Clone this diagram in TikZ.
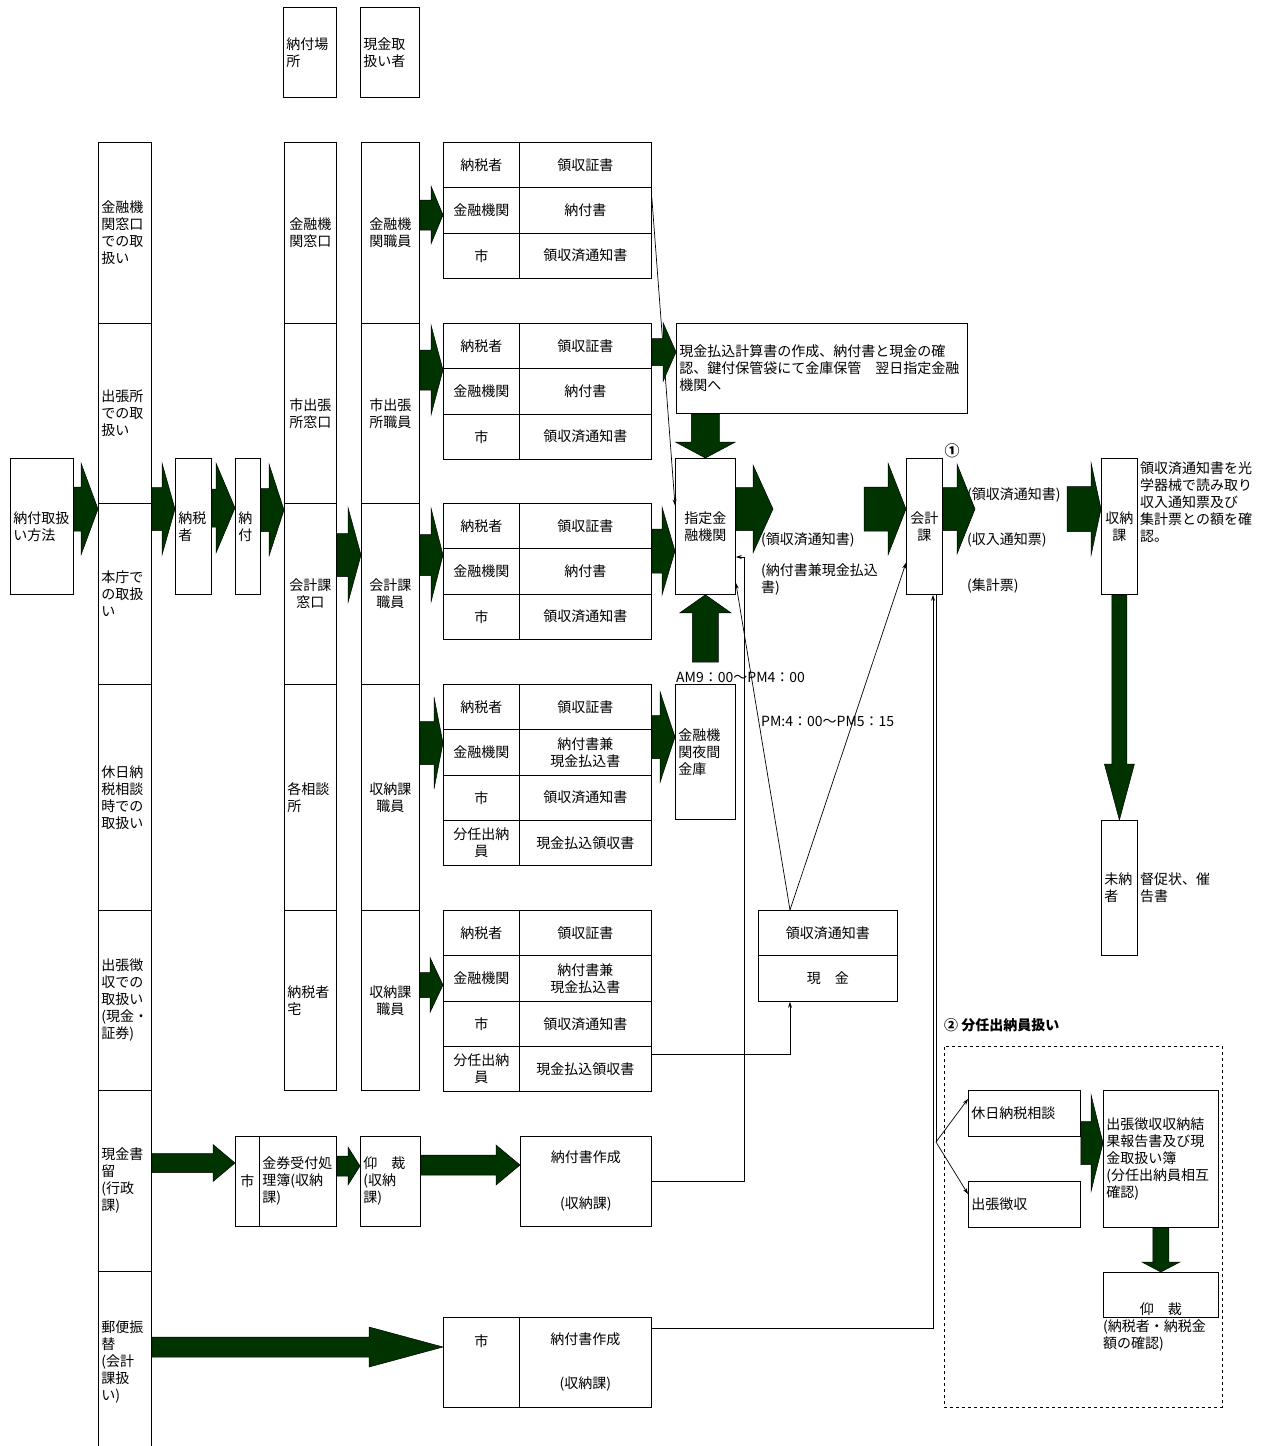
\documentclass[tikz,border=0pt]{standalone}
\usepackage{fontspec}
\setmainfont{Noto Sans CJK JP}
\usepackage{tikz}
\usetikzlibrary{arrows.meta, calc}
\definecolor{arrowgreen}{RGB}{0, 51, 0}

% block arrow: start, tip, shaft half width, head half width, head length
\newcommand{\blockarrow}[5]{%
  \filldraw[blockarr] let \p1=(#1), \p2=(#2), \p3=($(\p2)!#5pt!(\p1)$) in
    ($(\p1)!#3pt!90:(\p2)$) -- ($(\p3)!#3pt!90:(\p2)$) -- ($(\p3)!#4pt!90:(\p2)$) -- (\p2)
    -- ($(\p3)!#4pt!-90:(\p2)$) -- ($(\p3)!#3pt!-90:(\p2)$) -- ($(\p1)!#3pt!-90:(\p2)$) -- cycle;}

\begin{document}
\begin{tikzpicture}[
    x=1pt, y=-1pt,
    font=\fontsize{14}{17}\selectfont,
    % Styles
    cell/.style 2 args={draw, line width=.8pt, anchor=north west, minimum width=#1, minimum height=#2, text width=#1-6, inner xsep=3pt, inner ysep=0pt, align=left},
    lbl/.style={inner sep=0pt, align=left},
    blockarr/.style={fill=arrowgreen, draw=black, line width=.5pt},
    link/.style={-{Stealth[length=6pt, width=4pt]}, line width=.7pt}
]
    \path[use as bounding box, fill=white] (0,0) rectangle (1264,1446);

    % Headings
    \node[cell={53}{90}] (hd1) at (283,7) {納付場\\所};
    \node[cell={59}{90}] (hd2) at (360,7) {現金取\\扱い者};

    % Ways of payment
    \node[cell={63}{136}] (meth) at (10,458) {納付取扱\\い方法};
    \node[cell={53}{181}] (hw1) at (98,142) {金融機\\関窓口\\での取\\扱い};
    \node[cell={53}{180}] (hw2) at (98,323) {出張所\\での取\\扱い};
    \node[cell={53}{181}] (hw3) at (98,503) {本庁で\\の取扱\\い};
    \node[cell={53}{226}] (hw4) at (98,684) {休日納\\税相談\\時での\\取扱い};
    \node[cell={53}{180}] (hw5) at (98,910) {出張徴\\収での\\取扱い\\(現金・\\証券)};
    \node[cell={53}{181}] (hw6) at (98,1090) {現金書\\留\\(行政\\課)};
    \node[cell={53}{182}] (hw7) at (98,1271) {郵便振\\替\\(会計\\課扱\\い)};
    \node[cell={36}{136}] (payer) at (175,458) {納税\\者};
    \node[cell={25}{136}] (nofu) at (235,458) {納\\付};

    % Places and staff
    \node[cell={52}{181}, align=center] (pl1) at (284,142) {金融機\\関窓口};
    \node[cell={52}{180}, align=center] (pl2) at (284,323) {市出張\\所窓口};
    \node[cell={52}{181}, align=center] (pl3) at (284,503) {会計課\\窓口};
    \node[cell={52}{226}] (pl4) at (284,684) {各相談\\所};
    \node[cell={52}{180}] (pl5) at (284,910) {納税者\\宅};
    \node[cell={58}{181}, align=center] (st1) at (361,142) {金融機\\関職員};
    \node[cell={58}{180}, align=center] (st2) at (361,323) {市出張\\所職員};
    \node[cell={58}{181}, align=center] (st3) at (361,503) {会計課\\職員};
    \node[cell={58}{226}, align=center] (st4) at (361,684) {収納課\\職員};
    \node[cell={58}{180}, align=center] (st5) at (361,910) {収納課\\職員};

    % Slips
    \foreach \k/\y in {1/142, 2/323, 3/503}
      \foreach \r/\a/\b in {1/納税者/領収証書, 2/金融機関/納付書, 3/市/領収済通知書} {
        \node[cell={76}{45.33}, align=center] (tab\k-\r-l) at (443, {\y+(\r-1)*45.33}) {\a};
        \node[cell={132}{45.33}, align=center] (tab\k-\r-r) at (519, {\y+(\r-1)*45.33}) {\b};
      }
    \foreach \k/\y in {4/684, 5/910}
      \foreach \r/\a/\b in {1/納税者/領収証書, 2/金融機関/{納付書兼\\現金払込書}, 3/市/領収済通知書, 4/{分任出納\\員}/現金払込領収書} {
        \node[cell={76}{45.33}, align=center] (tab\k-\r-l) at (443, {\y+(\r-1)*45.33}) {\a};
        \node[cell={132}{45.33}, align=center] (tab\k-\r-r) at (519, {\y+(\r-1)*45.33}) {\b};
      }

    % Banks and offices
    \node[cell={291}{90}] (payin) at (676,323) {現金払込計算書の作成、納付書と現金の確\\認、鍵付保管袋にて金庫保管　翌日指定金融\\機関へ};
    \node[cell={60}{136}, align=center] (bank) at (675,458) {指定金\\融機関};
    \node[cell={60}{135}] (night) at (675,684) {金融機\\関夜間\\金庫};
    \node[cell={139}{45}, align=center] (recv) at (758,910) {領収済通知書};
    \node[cell={139}{46}, align=center] (cash) at (758,955) {現　金};
    \node[cell={36}{136}, align=center] (acct) at (906,458) {会計\\課};
    \node[cell={36}{136}, align=center] (rec) at (1101,458) {収納\\課};
    \node[cell={36}{135}] (unpaid) at (1101,820) {未納\\者};

    % Registered mail and postal transfer
    \node[cell={24}{90}, align=center] (gk-l) at (235,1136) {市};
    \node[cell={77}{90}] (gk-r) at (259,1136) {金券受付処\\理簿(収納\\課)};
    \node[cell={60}{90}] (aoi) at (360,1136) {仰　裁\\(収納\\課)};
    \node[cell={131}{90}, align=center] (nf1) at (520,1136) {納付書作成\\[29pt](収納課)};
    \node[cell={76}{90}, align=center] (lt-l) at (443,1317) {市\\[27pt]\mbox{}};
    \node[cell={132}{90}, align=center] (nf2) at (519,1317) {納付書作成\\[27pt](収納課)};

    % Sub-treasurer group
    \node[cell={278}{361}, dashed, line width=.7pt] (grp) at (944,1046) {};
    \node[lbl, anchor=west, font=\fontsize{14}{17}\selectfont\bfseries] (grp-title) at (944,1025) {② 分任出納員扱い};
    \node[cell={112}{46}] (kyu) at (968,1090) {休日納税相談};
    \node[cell={112}{46}] (shu) at (968,1181) {出張徴収};
    \node[cell={115}{137}] (rep) at (1103,1090) {出張徴収収納結\\果報告書及び現\\金取扱い簿\\(分任出納員相互\\確認)};
    \node[cell={115}{45}] (ok2) at (1103,1272) {};
    \node[lbl, anchor=south] (ok2-txt) at ($(ok2.south)+(0,-2)$) {仰　裁};
    \node[lbl, anchor=north west] (ok2-note) at (1103,1320) {(納税者・納税金\\額の確認)};

    % Labels
    \node[lbl, font=\fontsize{15}{17}\selectfont\bfseries] (mark1) at (952,451) {①};
    \node[lbl, anchor=west] (l-ryo) at (761,540) {(領収済通知書)};
    \node[lbl, anchor=north west] (l-nofu) at (761,563) {(納付書兼現金払込\\書)};
    \node[lbl, anchor=west] (l-ryo2) at (967,495) {(領収済通知書)};
    \node[lbl, anchor=west] (l-shu) at (967,540) {(収入通知票)};
    \node[lbl, anchor=west] (l-kei) at (967,586) {(集計票)};
    \node[lbl, anchor=west] (am) at (676,677) {AM9：00～PM4：00};
    \node[lbl, anchor=west] (pm) at (761,721) {PM:4：00～PM5：15};
    \node[lbl, anchor=north west] (rec-note) at (1140,462) {領収済通知書を光\\学器械で読み取り\\収入通知票及び\\集計票との額を確\\認。};
    \node[lbl, anchor=north west] (unpaid-note) at (1140,873) {督促状、催\\告書};

    % Thin connectors
    \draw[link] ($(tab1-2-r.east)+(0,-13)$) -- ($(bank.west)+(0,-21)$);
    \coordinate (j1) at (744,557);
    \draw[link] (nf1.east) -| (j1) -- (j1 -| bank.east);
    \coordinate (rc) at ($(recv.north west)+(32,0)$);
    \draw[link] (rc) -- ($(bank.south east)+(0,-12)$);
    \draw[link] (rc) -- ($(acct.south west)+(0,-32)$);
    \draw[link] ($(tab5-4-r.east)+(0,-15)$) -| ($(cash.south west)+(32,0)$);
    \draw[link] ($(nf2.north east)+(0,11)$) -| ($(acct.south west)+(27,0)$);
    \coordinate (br) at (936,1142);
    \draw[line width=.7pt] ($(acct.south west)+(30,0)$) -- (br);
    \draw[link] (br) -- ($(kyu.north west)+(0,9)$);
    \draw[link] (br) -- ($(shu.north west)+(0,13)$);

    % Block arrows
    \coordinate (bk-out) at (773,509);
    \coordinate (ac-in) at (864,509);
    \coordinate (ac-out) at (975,509);
    \coordinate (rc-in) at (1067,509);
    \blockarrow{meth.east |- 0,509}{hw3.west |- 0,509}{22}{46}{17}
    \blockarrow{hw3.east |- 0,509}{payer.west |- 0,509}{21.5}{46}{13}
    \blockarrow{payer.east |- 0,508}{nofu.west |- 0,508}{19}{45}{19}
    \blockarrow{nofu.east |- 0,510}{pl3.west |- 0,510}{21.5}{46}{15}
    \blockarrow{pl3.east |- 0,555}{st3.west |- 0,555}{21.5}{47.5}{13}
    \blockarrow{st1.east |- 0,215}{tab1-1-l.west |- 0,215}{15}{29}{12}
    \blockarrow{st2.east |- 0,370}{tab2-1-l.west |- 0,370}{20}{45}{12}
    \blockarrow{st3.east |- 0,555}{tab3-1-l.west |- 0,555}{20.5}{47}{12}
    \blockarrow{st4.east |- 0,743}{tab4-1-l.west |- 0,743}{21.5}{46}{9}
    \blockarrow{st5.east |- 0,985}{tab5-1-l.west |- 0,985}{12.5}{27.5}{13}
    \blockarrow{tab2-1-r.east |- 0,352}{payin.west |- 0,352}{13.5}{29.5}{13}
    \blockarrow{bank.north |- payin.south}{bank.north}{14}{30}{16}
    \blockarrow{tab3-2-r.east |- 0,551}{bank.west |- 0,551}{22}{44}{13}
    \blockarrow{night.north |- 0,662}{bank.south}{13}{25.5}{18}
    \blockarrow{tab4-2-r.east |- 0,737}{night.west |- 0,737}{21.5}{45.5}{15}
    \blockarrow{bank.east |- 0,509}{bk-out}{21.5}{44}{20}
    \blockarrow{ac-in}{acct.west |- 0,509}{22}{46}{18}
    \blockarrow{acct.east |- 0,509}{ac-out}{21.5}{45}{18}
    \blockarrow{rc-in}{rec.west |- 0,509}{22.5}{46.5}{10}
    \blockarrow{rec.south}{unpaid.north}{7.5}{15}{56}
    \blockarrow{hw6.east |- 0,1163}{gk-l.west |- 0,1163}{9.5}{18.5}{22}
    \blockarrow{gk-r.east |- 0,1166}{aoi.west |- 0,1166}{10}{19}{12}
    \blockarrow{aoi.east |- 0,1165}{nf1.west |- 0,1165}{10}{20}{24}
    \blockarrow{hw7.east |- 0,1347}{lt-l.west |- 0,1347}{10}{20}{74}
    \blockarrow{kyu.east |- 0,1143}{rep.west |- 0,1143}{21.5}{48.5}{12}
    \blockarrow{rep.south}{ok2.north}{8}{19}{10}

\end{tikzpicture}
\end{document}
